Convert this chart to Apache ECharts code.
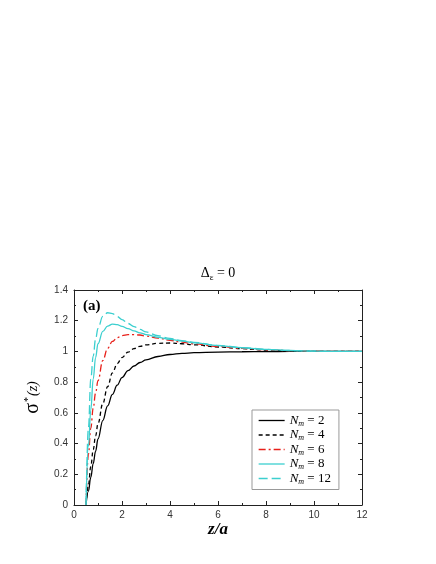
<!DOCTYPE html>
<html>
<head>
<meta charset="utf-8">
<script src="https://cdn.jsdelivr.net/npm/echarts@6/dist/echarts.min.js"></script>
<style>
  html, body { margin: 0; padding: 0; background: #fff; }
  #chart { width: 436px; height: 564px; }
</style>
</head>
<body>
<div id="chart"></div>
<script>
// z/a sample positions
const zVals = [0.5, 0.6, 0.7, 0.8, 0.9, 1.0, 1.2, 1.4, 1.6, 1.8, 2.0, 2.25, 2.5, 2.75, 3, 3.5, 4, 4.5, 5, 6, 7, 8, 9, 10, 11, 12];

// sigma*(z) for each N_m
const nm2  = [0, 0.09, 0.18, 0.27, 0.35, 0.43, 0.55, 0.645, 0.72, 0.78, 0.83, 0.875, 0.905, 0.928, 0.945, 0.967, 0.98, 0.987, 0.992, 0.996, 0.998, 0.999, 1, 1, 1, 1];
const nm4  = [0, 0.13, 0.25, 0.36, 0.45, 0.53, 0.66, 0.77, 0.86, 0.92, 0.96, 0.995, 1.018, 1.033, 1.043, 1.053, 1.055, 1.05, 1.043, 1.029, 1.018, 1.009, 1.004, 1.001, 1, 1];
const nm6  = [0, 0.33, 0.5, 0.63, 0.73, 0.81, 0.94, 1.02, 1.065, 1.09, 1.103, 1.109, 1.11, 1.107, 1.1, 1.086, 1.072, 1.06, 1.049, 1.032, 1.02, 1.011, 1.005, 1.002, 1, 1];
const nm8  = [0, 0.38, 0.62, 0.82, 0.96, 1.05, 1.13, 1.165, 1.178, 1.174, 1.163, 1.148, 1.134, 1.121, 1.11, 1.092, 1.079, 1.067, 1.056, 1.038, 1.024, 1.013, 1.006, 1.002, 1, 1];
const nm12 = [0, 0.5, 0.82, 0.97, 1.08, 1.15, 1.228, 1.252, 1.246, 1.228, 1.207, 1.182, 1.162, 1.143, 1.127, 1.102, 1.085, 1.071, 1.059, 1.039, 1.025, 1.014, 1.006, 1.002, 1, 1];

const seriesNames = ['2', '4', '6', '8', '12'];
const seriesData = [nm2, nm4, nm6, nm8, nm12];
const colors = ['#000000', '#000000', '#e8201a', '#3ccfcf', '#3ccfcf'];
const dashes = ['solid', [4, 3], [7, 3, 2, 3], 'solid', [9, 4]];

const pair = (arr) => zVals.map((z, i) => [z, arr[i]]);

const chart = echarts.init(document.getElementById('chart'));

const axisCommon = {
    axisLine: { show: true, onZero: false, lineStyle: { color: '#222', width: 1 } },
    axisTick: { show: true, inside: true, length: 4, lineStyle: { color: '#222' } },
    minorTick: { show: true, splitNumber: 2, length: 2, lineStyle: { color: '#222' } },
    splitLine: { show: false }
};

const option = {
    animation: false,
    title: {
        text: '{d|Δ}{s|ε}{d| = 0}',
        left: 'center',
        top: 260,
        textStyle: {
            fontWeight: 'normal',
            rich: {
                d: { fontFamily: 'Liberation Serif', fontSize: 14, fontWeight: 'normal', color: '#000' },
                s: { fontFamily: 'Liberation Serif', fontSize: 9, fontWeight: 'normal', color: '#000', verticalAlign: 'bottom', padding: [8, 0, 0, 0] }
            }
        }
    },
    grid: { left: 74, right: 74, top: 290, bottom: 59 },
    xAxis: [
        Object.assign({}, axisCommon, {
            type: 'value', min: 0, max: 12, interval: 2,
            name: 'z/a', nameLocation: 'middle', nameGap: 15,
            nameTextStyle: { fontFamily: 'Liberation Serif', fontSize: 17, fontStyle: 'italic', fontWeight: 'bold', color: '#000' },
            axisLabel: { fontFamily: 'Liberation Sans', fontSize: 10, color: '#333', margin: 5 }
        }),
        Object.assign({}, axisCommon, {
            type: 'value', min: 0, max: 12, interval: 2, position: 'top',
            axisLabel: { show: false }
        })
    ],
    yAxis: [
        Object.assign({}, axisCommon, {
            type: 'value', min: 0, max: 1.4, interval: 0.2,
            name: '{g|σ}{a|*}{p|(z)}', nameLocation: 'middle', nameGap: 30, nameRotate: 90,
            nameTextStyle: {
                rich: {
                    g: { fontFamily: 'Liberation Serif', fontSize: 20, color: '#000' },
                    a: { fontFamily: 'Liberation Serif', fontSize: 10, color: '#000', verticalAlign: 'top', padding: [0, 1, 10, 1] },
                    p: { fontFamily: 'Liberation Serif', fontSize: 14, fontStyle: 'italic', color: '#000' }
                }
            },
            axisLabel: { fontFamily: 'Liberation Sans', fontSize: 10, color: '#333', margin: 6 }
        }),
        Object.assign({}, axisCommon, {
            type: 'value', min: 0, max: 1.4, interval: 0.2, position: 'right',
            axisLabel: { show: false }
        })
    ],
    legend: {
        orient: 'vertical',
        left: 252,
        top: 410,
        padding: [4, 8, 4, 6],
        itemGap: 1,
        itemWidth: 26,
        itemHeight: 14,
        backgroundColor: '#fff',
        borderColor: '#999',
        borderWidth: 1,
        borderRadius: 0,
        itemStyle: { opacity: 0 },
        lineStyle: { width: 1.3 },
        formatter: (name) => '{n|N}{m|m}{t| = ' + name + '}',
        textStyle: {
            rich: {
                n: { fontFamily: 'Liberation Serif', fontSize: 13, fontStyle: 'italic', color: '#000' },
                m: { fontFamily: 'Liberation Serif', fontSize: 8, fontStyle: 'italic', color: '#000', verticalAlign: 'bottom', padding: [6, 0, 0, 0] },
                t: { fontFamily: 'Liberation Serif', fontSize: 13, color: '#000' }
            }
        },
        data: seriesNames
    },
    graphic: [
        {
            type: 'text', left: 83, top: 299,
            style: { text: '(a)', fontFamily: 'Liberation Serif', fontSize: 15, fontWeight: 'bold', fill: '#000' }
        }
    ],
    series: seriesNames.map((n, i) => ({
        name: n,
        type: 'line',
        smooth: 0.4,
        smoothMonotone: 'x',
        symbol: 'none',
        color: colors[i],
        lineStyle: { color: colors[i], width: 1.3, type: dashes[i] },
        data: pair(seriesData[i])
    }))
};

chart.setOption(option);
</script>
</body>
</html>
